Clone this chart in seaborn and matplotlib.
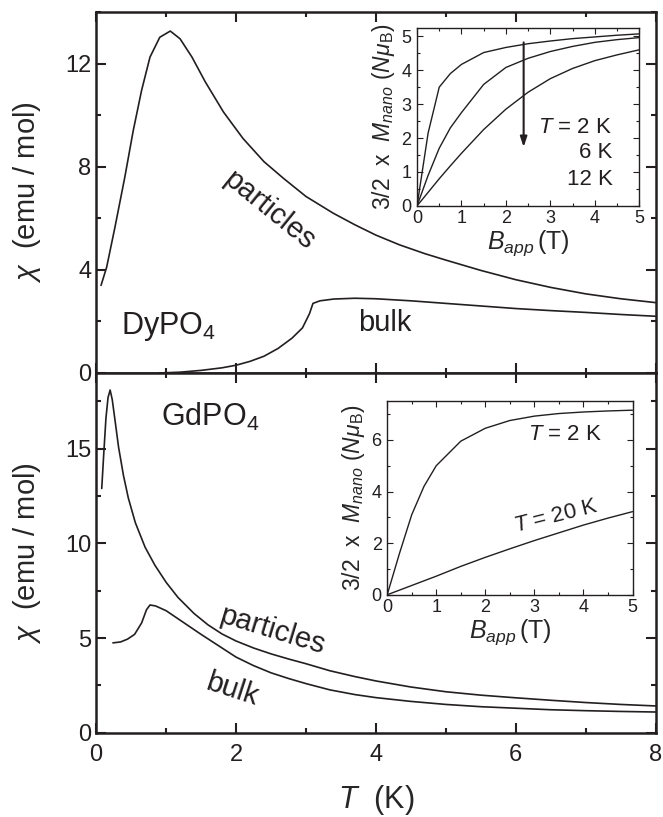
import numpy as np
import pandas as pd
import matplotlib
matplotlib.use("Agg")
import matplotlib.pyplot as plt
import seaborn as sns
from matplotlib.ticker import MultipleLocator

# ---------------- data ----------------
dy_part_T = [0.07, 0.15, 0.27, 0.41, 0.53, 0.65, 0.77, 0.91, 1.06, 1.2, 1.37, 1.56, 1.82, 2.1, 2.4, 2.68,
             3.0, 3.39, 3.7, 4.0, 4.34, 4.7, 5.0, 5.5, 6.0, 6.5, 7.0, 7.5, 8.0]
dy_part_chi = [3.4, 4.1, 5.67, 7.6, 9.4, 10.97, 12.26, 13.03, 13.27, 12.97, 12.26, 11.3, 10.13, 9.1, 8.2, 7.55,
               6.85, 6.2, 5.75, 5.35, 4.97, 4.63, 4.38, 3.98, 3.62, 3.32, 3.07, 2.88, 2.73]
dy_bulk_T = [0.9, 1.2, 1.5, 1.8, 2.0, 2.2, 2.4, 2.6, 2.8, 2.95, 3.05, 3.1, 3.2, 3.4, 3.7, 4.0,
             4.5, 5.0, 5.5, 6.0, 6.5, 7.0, 7.5, 8.0]
dy_bulk_chi = [0.0, 0.03, 0.1, 0.2, 0.3, 0.45, 0.65, 0.95, 1.35, 1.75, 2.3, 2.7, 2.8, 2.87, 2.9, 2.88,
               2.8, 2.7, 2.6, 2.5, 2.42, 2.35, 2.27, 2.2]
gd_part_T = [0.08, 0.11, 0.14, 0.17, 0.2, 0.23, 0.27, 0.32, 0.39, 0.46, 0.56, 0.7, 0.84, 1.0, 1.17, 1.4,
             1.6, 1.8, 2.0, 2.25, 2.5, 2.75, 3.0, 3.34, 3.7, 4.0, 4.5, 5.0, 5.5, 6.0, 6.5, 7.0, 7.5, 8.0]
gd_part_chi = [12.9, 14.8, 16.6, 17.7, 18.1, 17.6, 16.5, 15.1, 13.6, 12.4, 11.1, 9.8, 8.85, 7.95, 7.15, 6.3,
               5.7, 5.22, 4.85, 4.48, 4.17, 3.9, 3.65, 3.28, 2.97, 2.74, 2.42, 2.17, 1.99, 1.85, 1.72, 1.6, 1.5, 1.42]
gd_bulk_T = [0.24, 0.35, 0.45, 0.55, 0.65, 0.72, 0.77, 0.85, 1.0, 1.2, 1.5, 1.75, 2.0, 2.25, 2.5, 2.75,
             3.0, 3.34, 3.7, 4.0, 4.5, 5.0, 5.5, 6.0, 6.5, 7.0, 7.5, 8.0]
gd_bulk_chi = [4.75, 4.8, 4.95, 5.2, 5.8, 6.5, 6.75, 6.7, 6.45, 5.95, 5.2, 4.6, 4.0, 3.55, 3.17, 2.87,
               2.6, 2.27, 2.02, 1.86, 1.66, 1.5, 1.38, 1.3, 1.22, 1.17, 1.13, 1.1]

dy_B = [0, 0.25, 0.5, 0.75, 1.0, 1.5, 2.0, 2.5, 3.0, 3.5, 4.0, 4.5, 5.0]
dy_M_2K = [0, 2.15, 3.5, 3.9, 4.17, 4.52, 4.67, 4.78, 4.86, 4.93, 4.98, 5.03, 5.07]
dy_M_6K = [0, 0.9, 1.7, 2.3, 2.75, 3.58, 4.08, 4.35, 4.55, 4.7, 4.82, 4.9, 4.96]
dy_M_12K = [0, 0.4, 0.8, 1.18, 1.55, 2.25, 2.85, 3.35, 3.75, 4.05, 4.28, 4.45, 4.6]

gd_B = [0, 0.25, 0.5, 0.75, 1.0, 1.5, 2.0, 2.5, 3.0, 3.5, 4.0, 4.5, 5.0]
gd_M_2K = [0, 1.6, 3.1, 4.2, 5.0, 5.95, 6.45, 6.75, 6.92, 7.02, 7.08, 7.12, 7.15]
gd_M_20K = [0, 0.18, 0.36, 0.54, 0.72, 1.1, 1.45, 1.78, 2.1, 2.4, 2.7, 2.97, 3.22]

# ---------------- style ----------------
sns.set_style("ticks")
plt.rcParams["font.family"] = ["Liberation Sans", "DejaVu Sans"]
plt.rcParams["mathtext.fontset"] = "custom"
plt.rcParams["mathtext.rm"] = "Liberation Sans"
plt.rcParams["mathtext.it"] = "Liberation Sans:italic"
plt.rcParams["mathtext.bf"] = "Liberation Sans:bold"
plt.rcParams["axes.edgecolor"] = "#231f20"
plt.rcParams["text.color"] = "#231f20"

fig = plt.figure(figsize=(6.63, 8.17), dpi=100)
ax1 = fig.add_axes([0.145, 0.5435, 0.844, 0.4415])
ax2 = fig.add_axes([0.145, 0.103, 0.844, 0.4405], sharex=ax1)

lc = "#231f20"
lw = 1.2

def df(x, y):
    return pd.DataFrame({"x": x, "y": y})

sns.lineplot(data=df(dy_part_T, dy_part_chi), x="x", y="y", ax=ax1, color=lc, lw=lw, sort=False, estimator=None)
sns.lineplot(data=df(dy_bulk_T, dy_bulk_chi), x="x", y="y", ax=ax1, color=lc, lw=lw, sort=False, estimator=None)
sns.lineplot(data=df(gd_part_T, gd_part_chi), x="x", y="y", ax=ax2, color=lc, lw=lw, sort=False, estimator=None)
sns.lineplot(data=df(gd_bulk_T, gd_bulk_chi), x="x", y="y", ax=ax2, color=lc, lw=lw, sort=False, estimator=None)

def style_main(ax):
    for s in ax.spines.values():
        s.set_linewidth(1.8)
        s.set_visible(True)
    ax.tick_params(which="both", direction="in", top=True, right=True, width=1.5, labelsize=17, colors=lc)
    ax.tick_params(which="major", length=7)
    ax.tick_params(which="minor", length=3.5)

ax1.set_xlim(0, 8)
ax1.set_ylim(0, 14)
ax1.yaxis.set_major_locator(MultipleLocator(4))
ax1.yaxis.set_minor_locator(MultipleLocator(2))
ax1.xaxis.set_major_locator(MultipleLocator(2))
ax1.xaxis.set_minor_locator(MultipleLocator(1))
style_main(ax1)
ax1.tick_params(labelbottom=False)
ax1.set_xlabel("")

ax2.set_ylim(0, 19)
ax2.yaxis.set_major_locator(MultipleLocator(5))
ax2.yaxis.set_minor_locator(MultipleLocator(2.5))
style_main(ax2)
ax2.tick_params(axis="x", pad=8)

ylab = r"$\chi$  (emu / mol)"
ax1.set_ylabel(ylab, fontsize=21)
ax2.set_ylabel(ylab, fontsize=21)
ax1.yaxis.set_label_coords(-0.095, 0.5)
ax2.yaxis.set_label_coords(-0.095, 0.5)
ax2.set_xlabel(r"$T$  (K)", fontsize=22, labelpad=12)

# annotations top
ax1.text(2.47, 6.3, "particles", rotation=-39, fontsize=21, ha="center", va="center")
ax1.text(1.03, 1.8, r"DyPO$_4$", fontsize=22, ha="center", va="center")
ax1.text(4.13, 1.95, "bulk", fontsize=21, ha="center", va="center")
# annotations bottom
ax2.text(1.63, 16.7, r"GdPO$_4$", fontsize=22, ha="center", va="center")
ax2.text(2.52, 5.4, "particles", rotation=-17, fontsize=21, ha="center", va="center")
ax2.text(1.94, 2.3, "bulk", rotation=-18, fontsize=21, ha="center", va="center")

# ---------------- insets ----------------
in1 = fig.add_axes([0.629, 0.748, 0.335, 0.218])
in2 = fig.add_axes([0.584, 0.272, 0.370, 0.237])

ilw = 1.0
for y in (dy_M_2K, dy_M_6K, dy_M_12K):
    sns.lineplot(data=df(dy_B, y), x="x", y="y", ax=in1, color=lc, lw=ilw, sort=False, estimator=None)
for y in (gd_M_2K, gd_M_20K):
    sns.lineplot(data=df(gd_B, y), x="x", y="y", ax=in2, color=lc, lw=ilw, sort=False, estimator=None)

def style_inset(ax):
    for s in ax.spines.values():
        s.set_linewidth(1.0)
    ax.tick_params(which="both", direction="in", top=True, right=True, width=0.8, labelsize=13, colors=lc)
    ax.tick_params(axis="x", pad=3)
    ax.tick_params(axis="y", pad=4)
    ax.tick_params(which="major", length=4)
    ax.tick_params(which="minor", length=2)
    ax.xaxis.set_major_locator(MultipleLocator(1))
    ax.xaxis.set_minor_locator(MultipleLocator(0.5))

in1.set_xlim(0, 5)
in1.set_ylim(0, 5.25)
in1.yaxis.set_major_locator(MultipleLocator(1))
in1.yaxis.set_minor_locator(MultipleLocator(0.5))
style_inset(in1)
in2.set_xlim(0, 5)
in2.set_ylim(0, 7.5)
in2.yaxis.set_major_locator(MultipleLocator(2))
in2.yaxis.set_minor_locator(MultipleLocator(1))
style_inset(in2)

ilab_y = r"3/2  x  $M_{nano}$ $(N\mu_{\mathrm{B}})$"
ilab_x = r"$B_{app}\,$(T)"
for ax in (in1, in2):
    ax.set_ylabel(ilab_y, fontsize=16.5, labelpad=3)
    ax.set_xlabel(ilab_x, fontsize=18, labelpad=1)

in1.annotate("", xy=(2.4, 1.65), xytext=(2.4, 4.9),
             arrowprops=dict(arrowstyle="-|>,head_length=0.6,head_width=0.2", color=lc, lw=1.5))
in1.text(4.4, 2.3, r"$T$ = 2 K", fontsize=16, ha="right", va="center")
in1.text(4.4, 1.57, "6 K", fontsize=16, ha="right", va="center")
in1.text(4.4, 0.77, "12 K", fontsize=16, ha="right", va="center")

in2.text(4.39, 6.2, r"$T$ = 2 K", fontsize=16, ha="right", va="center")
in2.text(3.45, 3.04, r"$T$ = 20 K", fontsize=16, rotation=14, ha="center", va="center")

fig.savefig("out.png", dpi=100)
